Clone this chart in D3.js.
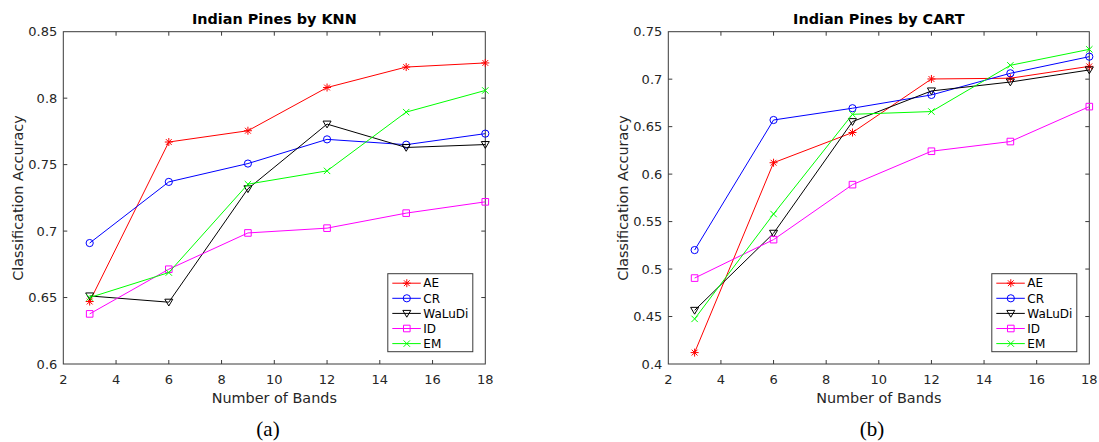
<!DOCTYPE html>
<html>
<head>
<meta charset="utf-8">
<script src="https://cdn.jsdelivr.net/npm/d3@7"></script>
<style>
body { margin: 0; background: #fff; }
svg { display: block; }
.tick-label { font-family: "DejaVu Sans", sans-serif; font-size: 13px; fill: #262626; }
.axis-title { font-family: "DejaVu Sans", sans-serif; font-size: 14.4px; fill: #262626; }
.plot-title { font-family: "DejaVu Sans", sans-serif; font-size: 14.4px; font-weight: bold; fill: #000; }
.legend-text { font-family: "DejaVu Sans", sans-serif; font-size: 12px; fill: #000; }
.caption { font-family: "Liberation Serif", "Times New Roman", serif; font-size: 21px; fill: #000; }
</style>
</head>
<body>
<script>
// data
var bands = [3, 6, 9, 12, 15, 18];
var methods = ["AE", "CR", "WaLuDi", "ID", "EM"];
var xTicks = [2, 4, 6, 8, 10, 12, 14, 16, 18];
var knnTicks = [0.6, 0.65, 0.7, 0.75, 0.8, 0.85];
var cartTicks = [0.4, 0.45, 0.5, 0.55, 0.6, 0.65, 0.7, 0.75];

var knnAE     = [0.647, 0.767, 0.7755, 0.808, 0.8234, 0.8265];
var knnCR     = [0.691, 0.737, 0.7508, 0.769, 0.765, 0.7733];
var knnWaLuDi = [0.6512, 0.6465, 0.7318, 0.7805, 0.7629, 0.7651];
var knnID     = [0.6377, 0.6713, 0.6986, 0.7022, 0.7135, 0.722];
var knnEM     = [0.65, 0.6688, 0.7353, 0.7453, 0.7895, 0.8058];

var cartAE     = [0.412, 0.612, 0.6438, 0.7002, 0.701, 0.7135];
var cartCR     = [0.520, 0.657, 0.6694, 0.6834, 0.7062, 0.7237];
var cartWaLuDi = [0.4565, 0.5377, 0.6553, 0.6876, 0.697, 0.7097];
var cartID     = [0.4905, 0.531, 0.5889, 0.6241, 0.6343, 0.6711];
var cartEM     = [0.4475, 0.558, 0.663, 0.6659, 0.7146, 0.7314];

var colors = {AE: "#ff0000", CR: "#0000ff", WaLuDi: "#000000", ID: "#ff00ff", EM: "#00ff00"};
var markers = {AE: "star", CR: "circle", WaLuDi: "tri", ID: "square", EM: "cross"};

var svg = d3.select("body").append("svg").attr("width", 1099).attr("height", 442);

function markerPath(type) {
  var p = d3.path();
  if (type == "circle") { p.moveTo(3.6, 0); p.arc(0, 0, 3.6, 0, 2 * Math.PI); }
  else if (type == "square") { p.rect(-3.3, -3.3, 6.6, 6.6); }
  else if (type == "tri") { p.moveTo(-4, -3); p.lineTo(4, -3); p.lineTo(0, 3.8); p.closePath(); }
  else if (type == "cross") { p.moveTo(-3.2, -3.2); p.lineTo(3.2, 3.2); p.moveTo(-3.2, 3.2); p.lineTo(3.2, -3.2); }
  else if (type == "star") {
    p.moveTo(-4, 0); p.lineTo(4, 0); p.moveTo(0, -4); p.lineTo(0, 4);
    p.moveTo(-2.9, -2.9); p.lineTo(2.9, 2.9); p.moveTo(-2.9, 2.9); p.lineTo(2.9, -2.9);
  }
  return p.toString();
}

function fmt(v) { return String(+v.toFixed(2)); }

function drawPanel(opt) {
  var x = d3.scaleLinear().domain([2, 18]).range([opt.left, opt.right]);
  var y = d3.scaleLinear().domain(opt.yDomain).range([364, 31.7]);
  var g = svg.append("g");

  // axes box
  g.append("rect").attr("x", opt.left).attr("y", 31.7)
    .attr("width", opt.right - opt.left).attr("height", 364 - 31.7)
    .attr("fill", "none").attr("stroke", "#3a3a3a").attr("stroke-width", 1);

  // ticks (inward, mirrored)
  xTicks.forEach(function(t) {
    if (t == 2 || t == 18) return;
    g.append("line").attr("x1", x(t)).attr("x2", x(t)).attr("y1", 364).attr("y2", 360)
      .attr("stroke", "#3a3a3a");
    g.append("line").attr("x1", x(t)).attr("x2", x(t)).attr("y1", 31.7).attr("y2", 35.7)
      .attr("stroke", "#3a3a3a");
  });
  opt.yTicks.forEach(function(t, i) {
    if (i == 0 || i == opt.yTicks.length - 1) return;
    g.append("line").attr("x1", opt.left).attr("x2", opt.left + 4).attr("y1", y(t)).attr("y2", y(t))
      .attr("stroke", "#3a3a3a");
    g.append("line").attr("x1", opt.right).attr("x2", opt.right - 4).attr("y1", y(t)).attr("y2", y(t))
      .attr("stroke", "#3a3a3a");
  });

  g.selectAll(".xl").data(xTicks).enter().append("text").attr("class", "tick-label")
    .attr("x", d => x(d)).attr("y", 383.5).attr("text-anchor", "middle").text(d => d);
  g.selectAll(".yl").data(opt.yTicks).enter().append("text").attr("class", "tick-label")
    .attr("x", opt.left - 6).attr("y", d => y(d) + 4.7).attr("text-anchor", "end").text(fmt);

  g.append("text").attr("class", "plot-title").attr("x", (opt.left + opt.right) / 2).attr("y", 24)
    .attr("text-anchor", "middle").text(opt.title);
  g.append("text").attr("class", "axis-title").attr("x", (opt.left + opt.right) / 2).attr("y", 402.5)
    .attr("text-anchor", "middle").text("Number of Bands");
  g.append("text").attr("class", "axis-title")
    .attr("transform", "translate(" + (opt.left - 40) + "," + 198 + ") rotate(-90)")
    .attr("text-anchor", "middle").text("Classification Accuracy");
  g.append("text").attr("class", "caption").attr("x", opt.captionX).attr("y", 436)
    .attr("text-anchor", "middle").text(opt.caption);

  var line = d3.line().x((d, i) => x(bands[i])).y(d => y(d));

  methods.forEach(function(m, k) {
    var vals = opt.series[k];
    g.append("path").attr("d", line(vals)).attr("fill", "none")
      .attr("stroke", colors[m]).attr("stroke-width", 1);
    g.selectAll(".mk" + m).data(vals).enter().append("path")
      .attr("transform", (d, i) => "translate(" + x(bands[i]) + "," + y(d) + ")")
      .attr("d", markerPath(markers[m])).attr("fill", "none")
      .attr("stroke", colors[m]).attr("stroke-width", 1);
  });

  // legend
  var lw = 85, lh = 78;
  var lx = opt.right - 12.5 - lw, ly = 364 - 12.3 - lh;
  var lg = g.append("g").attr("transform", "translate(" + lx + "," + ly + ")");
  lg.append("rect").attr("width", lw).attr("height", lh).attr("fill", "#fff")
    .attr("stroke", "#3a3a3a").attr("stroke-width", 1);
  methods.forEach(function(m, k) {
    var cy = 9.5 + k * 15.1;
    lg.append("line").attr("x1", 4.5).attr("x2", 33).attr("y1", cy).attr("y2", cy)
      .attr("stroke", colors[m]).attr("stroke-width", 1);
    lg.append("path").attr("transform", "translate(19," + cy + ")")
      .attr("d", markerPath(markers[m])).attr("fill", "none").attr("stroke", colors[m]);
    lg.append("text").attr("class", "legend-text").attr("x", 35.5).attr("y", cy + 4.3).text(m);
  });
}

drawPanel({
  left: 63.3, right: 485.3, yDomain: [0.6, 0.85], yTicks: knnTicks,
  title: "Indian Pines by KNN", caption: "(a)", captionX: 268,
  series: [knnAE, knnCR, knnWaLuDi, knnID, knnEM]
});
drawPanel({
  left: 668.3, right: 1089.3, yDomain: [0.4, 0.75], yTicks: cartTicks,
  title: "Indian Pines by CART", caption: "(b)", captionX: 872,
  series: [cartAE, cartCR, cartWaLuDi, cartID, cartEM]
});
</script>
</body>
</html>
